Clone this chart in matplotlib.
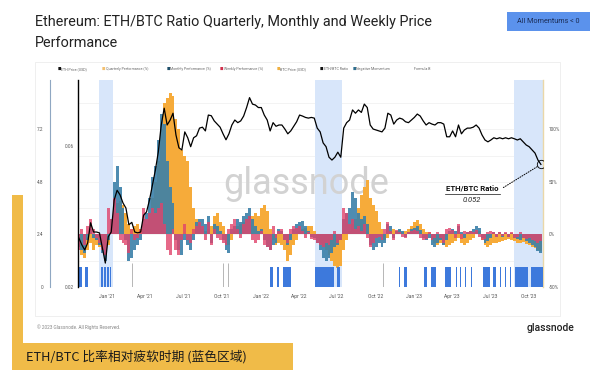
import matplotlib
matplotlib.use('Agg')
import matplotlib.pyplot as plt
from matplotlib.patches import Rectangle
from matplotlib.lines import Line2D
import pandas as pd

plt.rcParams['font.family'] = ['Roboto', 'DejaVu Sans']

# weekly samples, late Oct 2020 -> end Oct 2023
weeks = pd.date_range('2020-10-26', periods=158, freq='7D')

eth_btc = [0.0293, 0.0278, 0.0267, 0.0282, 0.0330, 0.0307, 0.0307, 0.0305, 0.0271, 0.0241,
           0.0296, 0.0307, 0.0394, 0.0425, 0.0410, 0.0385, 0.0370, 0.0325, 0.0331, 0.0307,
           0.0305, 0.0307, 0.0350, 0.0359, 0.0394, 0.0443, 0.0497, 0.0573, 0.0707, 0.0806,
           0.0707, 0.0734, 0.0775, 0.0654, 0.0592, 0.0582, 0.0670, 0.0640, 0.0597, 0.0640,
           0.0650, 0.0690, 0.0695, 0.0675, 0.0764, 0.0760, 0.0730, 0.0712, 0.0695, 0.0660,
           0.0630, 0.0660, 0.0707, 0.0735, 0.0720, 0.0730, 0.0758, 0.0810, 0.0875, 0.0832,
           0.0826, 0.0810, 0.0810, 0.0764, 0.0735, 0.0675, 0.0720, 0.0700, 0.0707, 0.0707,
           0.0685, 0.0660, 0.0675, 0.0700, 0.0725, 0.0764, 0.0758, 0.0750, 0.0746, 0.0750,
           0.0746, 0.0690, 0.0670, 0.0615, 0.0597, 0.0550, 0.0538, 0.0550, 0.0572, 0.0550,
           0.0690, 0.0720, 0.0735, 0.0795, 0.0775, 0.0795, 0.0780, 0.0832, 0.0810, 0.0707,
           0.0685, 0.0680, 0.0675, 0.0670, 0.0690, 0.0775, 0.0764, 0.0712, 0.0735, 0.0746,
           0.0740, 0.0725, 0.0720, 0.0735, 0.0750, 0.0770, 0.0758, 0.0730, 0.0707, 0.0720,
           0.0712, 0.0707, 0.0720, 0.0720, 0.0712, 0.0645, 0.0645, 0.0675, 0.0645, 0.0707,
           0.0660, 0.0680, 0.0690, 0.0690, 0.0695, 0.0707, 0.0690, 0.0654, 0.0629, 0.0620,
           0.0629, 0.0640, 0.0635, 0.0640, 0.0635, 0.0640, 0.0635, 0.0640, 0.0635, 0.0629,
           0.0635, 0.0620, 0.0605, 0.0597, 0.0582, 0.0568, 0.0538, 0.0520]

quarterly = [-10, -20, -22, -15, -8, -15, -10, -12, -15, -20,
             -10, 5, 20, 30, 32, 28, 20, 10, 5, 8,
             10, 5, 15, 10, 20, 35, 50, 70, 100, 125,
             130, 135, 132, 110, 100, 80, 75, 70, 45, 25,
             15, 10, 5, 3, 5, 8, 18, 20, 12, 8,
             -5, -10, -5, 3, 8, 10, 12, 15, 18, 18,
             20, 18, 25, 28, 22, 5, -5, -10, -8, -10,
             -15, -25, -20, -10, -5, 3, 5, 6, 8, 8,
             3, -3, -8, -12, -15, -20, -25, -30, -32, -30,
             -15, -5, 3, 10, 15, 25, 38, 45, 52, 35,
             28, 22, 12, 5, -5, -3, 3, 5, 3, 4,
             2, 3, 5, 8, 12, 14, 10, 5, 2, 2,
             -5, -8, -10, -8, -10, -12, -10, -8, -6, -3,
             -8, -10, -8, -5, -3, 2, 3, -5, -10, -12,
             -10, -8, -8, -7, -6, -5, -4, -5, -6, -8,
             -8, -7, -9, -10, -12, -13, -15, -16]

monthly = [-12, -15, -18, -5, 5, -3, -5, -10, -18, -25,
           -5, 15, 50, 65, 45, 25, -5, -25, -22, -15,
           -10, -5, 15, 20, 35, 55, 65, 90, 115, 105,
           70, 45, 30, -5, -15, -20, -5, -10, -15, -5,
           12, 15, 15, 10, 18, -8, 10, 8, 3, -5,
           -15, -18, 5, 8, 15, 12, 18, 20, 25, 15,
           8, 3, 5, -5, -12, -15, -10, -8, 5, 3,
           -5, -10, -5, 5, 10, 12, 13, 8, 3, -2,
           -3, -8, -15, -22, -25, -22, -18, -12, -10, -5,
           15, 20, 25, 40, 35, 20, 15, 18, 10, -10,
           -15, -12, -8, -12, -8, 10, 8, -3, 3, 5,
           3, -2, 2, 5, 6, 8, 4, -3, -5, -3,
           -10, -12, -8, -5, -10, -5, 3, 5, 3, 8,
           2, -3, 2, 3, 5, 8, 6, -3, -8, -6,
           -3, 2, -2, 2, -2, 1, -2, 1, -3, -4,
           -5, -3, -6, -8, -10, -12, -16, -18]

weekly = [-15, 5, -10, 8, 15, 5, -3, -8, -15, -20,
          25, 15, 35, 20, -5, -8, -10, -18, 5, -5,
          -3, 5, 25, 15, 20, 25, 20, 25, 30, 10,
          -15, -20, 5, -15, -20, -5, 10, -5, -8, 5,
          8, 12, 8, -5, 12, -10, 5, -3, -5, -8,
          -10, 5, 10, 15, 5, -3, 10, 15, 18, -5,
          -8, -5, 3, -10, -12, -15, 8, -3, 3, 5,
          -5, -8, 5, 8, 6, 8, 3, -3, 2, -4,
          -5, -8, -10, -12, -8, -10, -5, 3, -8, -5,
          25, 20, 10, 15, 5, 8, 3, 10, -3, -12,
          -8, -3, -2, -5, 5, 12, 3, -5, 4, 2,
          -2, -3, 2, 3, 4, 3, -3, -5, -4, 2,
          -5, -3, 2, -3, -8, 5, 6, 4, -3, 10,
          -4, 3, 2, 3, 2, 4, -2, -5, -4, 2,
          3, 2, -2, 2, -1, 2, -2, 2, -3, -2,
          2, -3, -4, -3, -5, -6, -8, -6]

# periods of relative ETH/BTC weakness (blue zones)
shaded_start = ['2020-12-13', '2022-05-10', '2023-08-26']
shaded_end = ['2021-01-15', '2022-07-13', '2023-11-04']

# negative momentum stripes: start date and length in days
neg_start = ['2020-10-27', '2020-11-10', '2020-12-18', '2020-12-26', '2021-01-02', '2021-01-09',
             '2022-01-23', '2022-02-09', '2022-02-23', '2022-05-10', '2022-07-02',
             '2022-11-26', '2022-12-08', '2023-01-24', '2023-02-10', '2023-03-15',
             '2023-04-11', '2023-04-20', '2023-05-02', '2023-05-16', '2023-06-14',
             '2023-07-07', '2023-07-24', '2023-08-05', '2023-08-17', '2023-08-29', '2023-10-06']
neg_days = [7, 7, 5, 4, 4, 2,
            8, 5, 19, 46, 7,
            2, 7, 8, 12, 15,
            2, 2, 2, 2, 16,
            8, 2, 2, 2, 31, 28]
thin_marks = ['2021-03-01', '2021-10-04', '2021-10-16', '2022-10-19']

quarter_ticks = pd.date_range('2021-01-01', '2023-10-01', freq='QS')
quarter_labels = ["Jan '21", "Apr '21", "Jul '21", "Oct '21", "Jan '22", "Apr '22",
                  "Jul '22", "Oct '22", "Jan '23", "Apr '23", "Jul '23", "Oct '23"]

pct_ticks = [-50, 0, 50, 100]
pct_labels = ['-50%', '0%', '50%', '100%']
ratio_ticks = [0.02, 0.06]
price_ticks = [0, 2.4, 4.8, 7.2]

orange = '#f6ab3a'
teal = '#3b80a9'
crimson = '#e0446c'
neg_blue = '#3d79dc'

fig = plt.figure(figsize=(6, 3.7), dpi=100)
W, H = 600, 370

# panel frame
fig.add_artist(Rectangle((35 / W, 1 - 316 / H), 525 / W, 254 / H, transform=fig.transFigure,
                         fill=False, ec='#ececec', lw=0.6))

ax = fig.add_axes([78 / W, 1 - 287 / H, 465 / W, 207 / H])
ax.set_ylim(-50, 147)
ax.set_xlim(pd.Timestamp('2020-10-24'), pd.Timestamp('2023-11-04'))
for y in [-25, 0, 25, 50, 75, 100, 125]:
    ax.axhline(y, color='#efefef', lw=0.5, zorder=0)
for s, e in zip(shaded_start, shaded_end):
    ax.axvspan(pd.Timestamp(s), pd.Timestamp(e), color='#d8e6fa', lw=0, zorder=0.5)

ax.bar(weeks, quarterly, width=7, color=orange, lw=0, zorder=2)
ax.bar(weeks, monthly, width=7, color=teal, lw=0, alpha=0.9, zorder=3)
ax.bar(weeks, weekly, width=7, color=crimson, lw=0, alpha=0.8, zorder=4)
ax.bar(pd.to_datetime(neg_start), 19, bottom=-50, width=neg_days, align='edge',
       color=neg_blue, lw=0, zorder=3)
ax.vlines(pd.to_datetime(thin_marks), -50, -27, color='#9a9a9a', lw=0.5, zorder=3)

ax.text(0.49, 0.5, 'glassnode', transform=ax.transAxes, ha='center', va='center',
        fontsize=26, color='#d2d2d2', zorder=1)

ax.set_xticks(quarter_ticks)
ax.set_xticklabels(quarter_labels)
ax.tick_params(axis='x', length=0, labelsize=3.6, labelcolor='#555555', pad=5)
for side in ['top', 'bottom', 'left']:
    ax.spines[side].set_visible(False)
ax.spines['right'].set_color('#ead7a8')
ax.spines['right'].set_linewidth(1.0)

# ETH/BTC ratio on log axis, labels on the left
axr = ax.twinx()
axr.set_yscale('log')
axr.set_ylim(0.02, 0.1004)
axr.plot(weeks, eth_btc, color='black', lw=0.9, zorder=5)
axr.yaxis.tick_left()
axr.set_yticks(ratio_ticks)
axr.set_yticklabels(['0.02', '0.06'])
axr.yaxis.set_minor_locator(matplotlib.ticker.NullLocator())
axr.tick_params(axis='y', length=0, labelsize=3.4, labelcolor='#555555', pad=3)
for side in ['top', 'bottom', 'right']:
    axr.spines[side].set_visible(False)
axr.spines['left'].set_color('black')
axr.spines['left'].set_linewidth(1.0)

# ETH price axis far left
axp = ax.twinx()
axp.set_ylim(0, 9.46)
axp.yaxis.tick_left()
axp.spines['left'].set_position(('axes', -28 / 465))
axp.spines['left'].set_color('#8fa7c2')
axp.spines['left'].set_linewidth(0.8)
for side in ['top', 'bottom', 'right']:
    axp.spines[side].set_visible(False)
axp.set_yticks(price_ticks)
axp.set_yticklabels(['0', '2.4', '4.8', '7.2'])
axp.tick_params(axis='y', length=0, labelsize=3.4, labelcolor='#555555', pad=5)

# percent axis labels on the right (twinx moved them to the left)
ax.yaxis.tick_right()
ax.set_yticks(pct_ticks)
ax.set_yticklabels(pct_labels)
ax.tick_params(axis='y', length=0, labelsize=3.4, labelcolor='#555555', pad=4)

# annotation of last ratio value
axr.annotate('', xy=(weeks[-1], eth_btc[-1]), xycoords='data',
             xytext=(501, H - 189), textcoords='figure pixels',
             arrowprops=dict(arrowstyle='-', linestyle=(0, (1, 1.5)), lw=0.7, color='black'))
axr.plot([weeks[-1]], [eth_btc[-1]], marker='o', ms=6, mfc='none', mec='black', mew=0.6,
         ls=':', zorder=6)
fig.text(472 / W, 1 - 188 / H, 'ETH/BTC Ratio', ha='center', va='center', fontsize=5.6,
         fontweight='bold', color='#111111')
fig.add_artist(Line2D([445 / W, 500 / W], [1 - 193.5 / H] * 2, color='#111111', lw=0.5))
fig.text(472 / W, 1 - 200 / H, f'{eth_btc[-1]:.3f}', ha='center', va='center', fontsize=5.4,
         style='italic', color='#222222')

# legend row
legend_names = ['ETH Price (USD)', 'Quarterly Performance (%)', 'Monthly Performance (%)',
                'Weekly Performance (%)', 'BTC Price (USD)', 'ETH/BTC Ratio',
                'Negative Momentum', 'Formula B']
legend_colors = ['#111111', '#f3c070', '#1f4f6a', '#d0304c', '#f0b040', '#111111',
                 '#2f6f8f', None]
legend_x = [58, 102, 167, 220, 277, 320, 353, 410]
for name, c, x in zip(legend_names, legend_colors, legend_x):
    if c:
        fig.text(x / W, 1 - 69 / H, '■', fontsize=2.6, color=c, va='center', ha='left')
    fig.text((x + 3.5) / W, 1 - 69 / H, name, fontsize=2.6, color='#666666', va='center',
             ha='left')

# titles and badge
fig.text(35 / W, 1 - 22 / H, 'Ethereum: ETH/BTC Ratio Quarterly, Monthly and Weekly Price',
         fontsize=10.4, color='#222222', va='center', ha='left')
fig.text(35 / W, 1 - 43 / H, 'Performance', fontsize=10.4, color='#222222', va='center',
         ha='left')
fig.add_artist(Rectangle((507 / W, 1 - 31 / H), 83 / W, 19 / H, transform=fig.transFigure,
                         fc='#5b92ec', ec='none'))
fig.text(548.5 / W, 1 - 21.5 / H, 'All Momentums < 0', fontsize=5.2, color='#1b2c55',
         ha='center', va='center')

# footer
fig.text(37 / W, 1 - 327 / H, '© 2023 Glassnode. All Rights Reserved.', fontsize=3.4,
         color='#888888', va='center', ha='left')
fig.text(574 / W, 1 - 328 / H, 'glassnode', fontsize=7.5, color='#222222', va='center',
         ha='right', fontweight='medium')

# yellow caption decoration
fig.add_artist(Rectangle((12 / W, 0), 11 / W, (H - 195) / H, transform=fig.transFigure,
                         fc='#f0bb48', ec='none'))
fig.add_artist(Rectangle((12 / W, 0), 281 / W, (H - 343) / H, transform=fig.transFigure,
                         fc='#f0bb48', ec='none'))
fig.text(26 / W, 1 - 357 / H, 'ETH/BTC 比率相对疲软时期 (蓝色区域)', fontsize=9.2,
         color='#1a1a1a', va='center', ha='left',
         family=['Noto Sans CJK SC', 'DejaVu Sans'])

fig.savefig('out.png', dpi=100)
